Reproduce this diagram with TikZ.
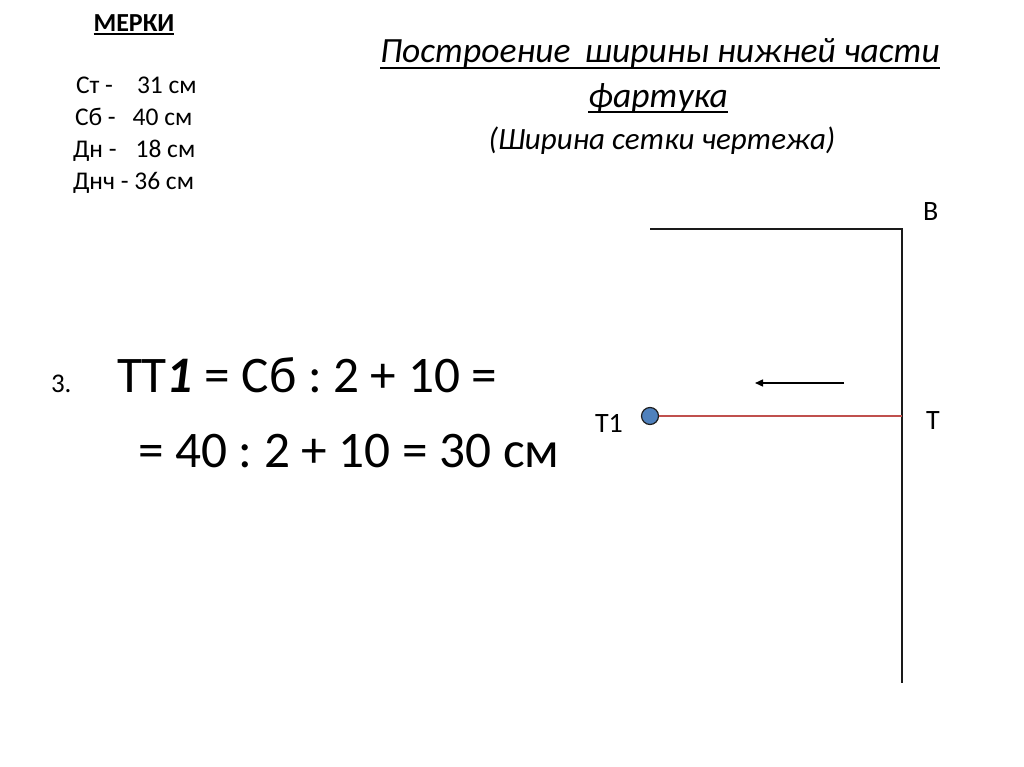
\documentclass[tikz,border=0pt]{standalone}
\usepackage{fontspec}
\setmainfont{Carlito}
\usetikzlibrary{arrows.meta}
\definecolor{linegray}{HTML}{1A1A1A}
\definecolor{redline}{HTML}{C0504D}
\definecolor{dotfill}{HTML}{4F81BD}
\definecolor{dotdraw}{HTML}{1F1F1F}
\frenchspacing
\begin{document}
\begin{tikzpicture}[x=1pt,y=-1pt,
  txt/.style={inner sep=0pt,outer sep=0pt,anchor=base west},
  ctxt/.style={inner sep=0pt,outer sep=0pt,anchor=base},
  listtxt/.style={txt,font=\fontsize{25.5}{28}\selectfont},
  titletxt/.style={ctxt,font=\fontsize{35.5}{40}\selectfont\itshape},
  subtxt/.style={ctxt,font=\fontsize{31}{36}\selectfont\itshape},
  formtxt/.style={txt,font=\fontsize{51.3}{60}\selectfont},
  lbl/.style={txt,font=\fontsize{28}{32}\selectfont},
  uline/.style={line width=1.8pt,black},
  gridline/.style={line width=1.3pt,linegray},
  redseg/.style={line width=1.6pt,redline},
  dot/.style={circle,minimum size=17pt,inner sep=0pt,fill=dotfill,draw=dotdraw,line width=1.2pt}]
\useasboundingbox (0,0) rectangle (1024,767);
\fill[white] (0,0) rectangle (1024,767);
% measurements
\node[ctxt,font=\fontsize{26}{30}\selectfont\bfseries] (merki) at (134,32) {МЕРКИ};
\draw[uline] ([yshift=-2pt]merki.base west) -- ([yshift=-2pt]merki.base east);
\node[listtxt] (m1) at (76,94) {Ст -\hspace{24pt}31 см};
\node[listtxt] (m2) at (75,126) {Сб -\hspace{17pt}40 см};
\node[listtxt] (m3) at (73,158) {Дн -\hspace{19pt}18 см};
\node[listtxt] (m4) at (73,190) {Днч - 36 см};
% title
\node[titletxt] (t1) at (660,63) {Построение\hspace{14pt}ширины нижней части};
\draw[uline] ([yshift=-5pt]t1.base west) -- ([yshift=-5pt]t1.base east);
\node[titletxt] (t2) at (658,108) {фартука};
\draw[uline] ([yshift=-4pt]t2.base west) -- ([yshift=-4pt]t2.base east);
\node[subtxt] (t3) at (662,150) {(Ширина сетки чертежа)};
% formula
\node[txt,font=\fontsize{27}{30}\selectfont] (n3) at (51,392) {3.};
\node[formtxt] (f1) at (117,392) {ТТ\textbf{\textit{1}} = Сб : 2 + 10 =};
\node[formtxt] (f2) at (138,467) {= 40 : 2 + 10 = 30 см};
% drawing
\coordinate (L) at (650,229);
\coordinate (B) at (902,229);
\coordinate (Bot) at (902,683);
\coordinate (T) at (902,416);
\node[dot] (T1) at (650,416) {};
\draw[gridline] (L) -- (B) -- (Bot);
\draw[redseg] (T1) -- (T);
\coordinate (as) at (844,383);
\coordinate (ae) at (755,383);
\draw[line width=1.5pt,black,-{Triangle[length=8pt,width=7pt]}] (as) -- (ae);
\node[lbl] (lB) at (923,221) {В};
\node[lbl] (lT) at (926,429) {Т};
\node[lbl] (lT1) at (595,432) {Т1};
\end{tikzpicture}
\end{document}
